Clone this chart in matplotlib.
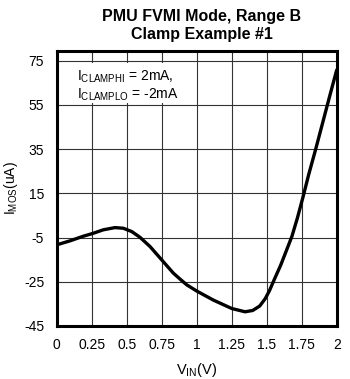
import numpy as np
import matplotlib.pyplot as plt
from matplotlib.patches import Rectangle

plt.rcParams['font.family'] = ['Liberation Sans Narrow', 'Liberation Sans', 'DejaVu Sans']
plt.rcParams['mathtext.default'] = 'regular'
plt.rcParams['axes.unicode_minus'] = False

# curve
v_in = [0, 0.095, 0.19, 0.255, 0.333, 0.417, 0.476, 0.536, 0.595, 0.667, 0.75,
        0.833, 0.881, 0.929, 1.0, 1.119, 1.25, 1.345, 1.4, 1.45, 1.49, 1.52,
        1.55, 1.6, 1.64, 1.68, 1.72, 1.76, 1.8, 1.85, 1.9, 1.95, 2.0]
i_mos = [-8.3, -6.5, -4.4, -3.2, -1.5, -0.5, -0.8, -2.3, -4.9, -9.1, -15.1,
         -21.1, -23.8, -26.4, -29.2, -33.3, -37.1, -38.6, -38.0, -36.0, -32.6,
         -29.0, -24.6, -17.5, -11, -4.5, 4, 13.5, 23.5, 35, 47, 59, 70.8]

xticks = [0, 0.25, 0.5, 0.75, 1, 1.25, 1.5, 1.75, 2]
xlabels = ['0', '0.25', '0.5', '0.75', '1', '1.25', '1.5', '1.75', '2']
yticks = [-45, -25, -5, 15, 35, 55, 75]

fig = plt.figure(figsize=(3.5, 3.79), dpi=100)
ax = fig.add_axes([0.162, 0.14, 0.8, 0.726])
ax.set_axisbelow(True)

ax.plot(v_in, i_mos, color='black', lw=2.4, solid_capstyle='round',
        solid_joinstyle='round', zorder=3)

ax.set_xlim(0, 2)
ax.set_ylim(-45, 79.5)
ax.set_xticks(xticks)
ax.set_xticklabels(xlabels)
ax.set_yticks(yticks)
ax.grid(True, color='#333333', lw=0.8)
ax.tick_params(length=0, labelsize=10, pad=9)
for s in ax.spines.values():
    s.set_linewidth(2.2)

ax.set_xlabel('$V_{IN}$(V)', fontsize=10.5, labelpad=6)
ax.set_ylabel('$I_{MOS}$(uA)', fontsize=10, labelpad=3)

fig.text(0.577, 0.975, 'PMU FVMI Mode, Range B\nClamp Example #1',
         ha='center', va='top', fontsize=11.5, fontweight='bold', linespacing=1.2)

# white box behind the note, hides the grid
ax.add_patch(Rectangle((0.005, 0.81), 0.44, 0.145, transform=ax.transAxes,
                       facecolor='white', edgecolor='none', zorder=1))
ax.text(0.074, 0.935, '$I_{CLAMPHI}$ = 2mA,\n$I_{CLAMPLO}$ = -2mA',
        transform=ax.transAxes, ha='left', va='top', fontsize=10,
        linespacing=1.15, zorder=2)

fig.savefig('out.png', dpi=100)
